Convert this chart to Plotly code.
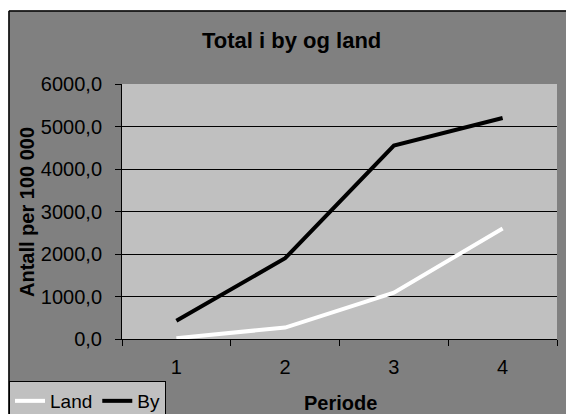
import plotly.graph_objects as go

# Data
periods = ["1", "2", "3", "4"]
land = [20, 270, 1090, 2600]
by = [430, 1900, 4550, 5200]
y_ticks = [0, 1000, 2000, 3000, 4000, 5000, 6000]

W, H = 566, 414
L, R, T, B = 122, 9, 84, 75
PW, PH = W - L - R, H - T - B


def px_x(px):
    return (px - L) / PW


def px_y(py):
    return (H - B - py) / PH


FONT = "Liberation Sans, Arial, sans-serif"

fig = go.Figure()
fig.add_trace(go.Scatter(x=periods, y=land, name="Land", mode="lines",
                         line=dict(color="#FFFFFF", width=4)))
fig.add_trace(go.Scatter(x=periods, y=by, name="By", mode="lines",
                         line=dict(color="#000000", width=4)))

shapes = [
    # white page area above and left of the chart frame
    dict(type="rect", xref="paper", yref="paper", x0=px_x(-5), x1=px_x(W + 5),
         y0=px_y(10.5), y1=px_y(-5), fillcolor="white", line=dict(width=0)),
    dict(type="rect", xref="paper", yref="paper", x0=px_x(-5), x1=px_x(8.5),
         y0=px_y(H + 5), y1=px_y(-5), fillcolor="white", line=dict(width=0)),
    # chart frame border
    dict(type="line", xref="paper", yref="paper", x0=px_x(9), x1=px_x(W + 5),
         y0=px_y(11), y1=px_y(11), line=dict(color="black", width=1.5)),
    dict(type="line", xref="paper", yref="paper", x0=px_x(9), x1=px_x(9),
         y0=px_y(11), y1=px_y(H + 5), line=dict(color="black", width=1.5)),
]

annotations = [
    dict(text="<b>Total i by og land</b>", xref="paper", yref="paper",
         x=px_x(291), y=px_y(41), xanchor="center", yanchor="middle",
         showarrow=False, font=dict(size=22, color="black", family=FONT)),
    dict(text="<b>Antall per 100 000</b>", xref="paper", yref="paper",
         x=px_x(27), y=px_y(212), xanchor="center", yanchor="middle",
         textangle=-90, showarrow=False,
         font=dict(size=20, color="black", family=FONT)),
    dict(text="<b>Periode</b>", xref="paper", yref="paper",
         x=px_x(340), y=px_y(403), xanchor="center", yanchor="middle",
         showarrow=False, font=dict(size=20, color="black", family=FONT)),
]

fig.update_layout(
    width=W, height=H,
    margin=dict(l=L, r=R, t=T, b=B, autoexpand=False),
    paper_bgcolor="#808080",
    plot_bgcolor="#C0C0C0",
    separators=", ",
    font=dict(family=FONT, size=19, color="black"),
    shapes=shapes,
    annotations=annotations,
    showlegend=True,
    legend=dict(
        orientation="h",
        x=px_x(9), y=px_y(381), xanchor="left", yanchor="top",
        xref="paper", yref="paper",
        bgcolor="#C0C0C0", bordercolor="black", borderwidth=1,
        font=dict(size=19, family=FONT, color="black"),
        itemwidth=30, tracegroupgap=0,
    ),
    xaxis=dict(
        type="category", range=[-0.5, 3.5],
        tickson="boundaries", ticks="outside", ticklen=6, tickcolor="black",
        showline=True, linecolor="black", linewidth=1,
        showgrid=False, ticklabelstandoff=10,
        tickfont=dict(size=20, family=FONT, color="black"),
    ),
    yaxis=dict(
        range=[0, 6000], tickvals=y_ticks, tickformat=".1f",
        ticks="outside", ticklen=6, tickcolor="black",
        showline=True, linecolor="black", linewidth=1,
        showgrid=True, gridcolor="#000000", gridwidth=1,
        zeroline=False, ticklabelstandoff=9,
        tickfont=dict(size=20, family=FONT, color="black"),
    ),
)

fig.write_html("out.html")
